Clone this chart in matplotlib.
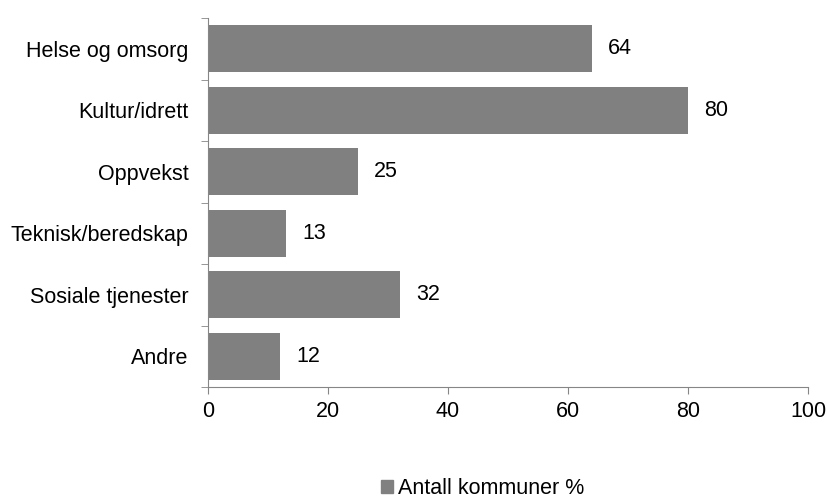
import matplotlib.pyplot as plt
from matplotlib.patches import Patch

plt.rcParams['font.family'] = ['Liberation Sans', 'DejaVu Sans']

# Andel kommuner per tjenesteområde
categories = ['Helse og omsorg', 'Kultur/idrett', 'Oppvekst',
              'Teknisk/beredskap', 'Sosiale tjenester', 'Andre']
values = [64, 80, 25, 13, 32, 12]
series_name = 'Antall kommuner %'

bar_color = '#808080'
axis_color = '#868686'
fs = 15.5

fig = plt.figure(figsize=(8.27, 5), dpi=100)
ax = fig.add_axes([0.2515, 0.226, 0.7255, 0.738])

ypos = list(range(len(categories)))[::-1]
bars = ax.barh(ypos, values, height=0.76, color=bar_color)

for y, v in zip(ypos, values):
    ax.annotate(str(v), xy=(v, y), xytext=(11.5, 0), textcoords='offset points',
                va='center', ha='left', fontsize=fs)

ax.set_xlim(0, 100)
ax.set_ylim(-0.5, len(categories) - 0.5)
ax.set_xticks([0, 20, 40, 60, 80, 100])
ax.set_yticks(ypos)
ax.set_yticklabels(categories)
ax.tick_params(axis='y', length=0, pad=14, labelsize=fs)
ax.tick_params(axis='x', length=5, color=axis_color, pad=5, labelsize=fs)

# kategorigrenser som små streker på y-aksen
ax.set_yticks([i - 0.5 for i in range(len(categories) + 1)], minor=True)
ax.tick_params(axis='y', which='minor', length=5, color=axis_color)

for side in ['top', 'right']:
    ax.spines[side].set_visible(False)
for side in ['left', 'bottom']:
    ax.spines[side].set_color(axis_color)

fig.legend(handles=[Patch(color=bar_color, label=series_name)],
           loc='center', bbox_to_anchor=(0.5835, 0.022), frameon=False,
           fontsize=fs, handlelength=0.56, handleheight=0.56,
           handletextpad=0.2, borderpad=0)

fig.savefig('out.png')
